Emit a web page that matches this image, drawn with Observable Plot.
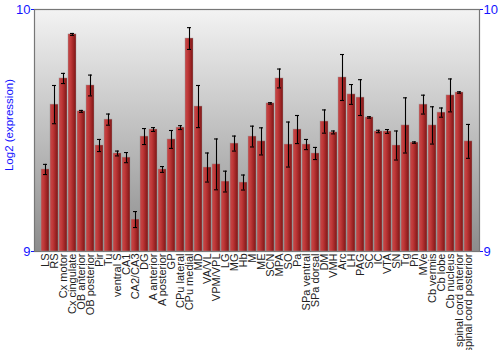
<!DOCTYPE html>
<html>
<head>
<meta charset="utf-8">
<script src="https://cdn.jsdelivr.net/npm/d3@7"></script>
<script src="https://cdn.jsdelivr.net/npm/@observablehq/plot@0.6"></script>
<style>
  html, body { margin: 0; padding: 0; background: #fff; }
  #chart { width: 500px; height: 350px; }
</style>
</head>
<body>
<div id="chart"></div>
<script>
const regions = ["LS","RS","Cx motor","Cx cingulate","OB anterior","OB posterior","Pir","Tu","ventral S","CA1","CA2/CA3","DG","A anterior","A posterior","GP","CPu lateral","CPu medial","MD","VA/VL","VPM/VPL","LG","MG","Hb","M","ME","SCN","MPA","SO","Pa","SPa ventral","SPa dorsal","DM","VMH","Arc","LH","PAG","SC","IC","VTA","SN","Tg","Pn","MVe","Cb vermis","Cb lobe","Cb nucleus","spinal cord anterior","spinal cord posterior"];
const means = [9.339,9.607,9.715,9.897,9.579,9.686,9.438,9.545,9.405,9.388,9.132,9.475,9.504,9.339,9.463,9.512,9.880,9.599,9.347,9.360,9.289,9.446,9.285,9.475,9.455,9.612,9.715,9.442,9.504,9.442,9.405,9.537,9.492,9.719,9.649,9.636,9.554,9.496,9.496,9.438,9.521,9.450,9.607,9.521,9.574,9.645,9.657,9.455];
const errors = [0.021,0.079,0.021,0.004,0.004,0.043,0.025,0.023,0.010,0.021,0.033,0.033,0.008,0.012,0.037,0.008,0.045,0.087,0.060,0.105,0.043,0.031,0.031,0.043,0.056,0.003,0.039,0.093,0.058,0.021,0.025,0.048,0.006,0.095,0.041,0.074,0.003,0.005,0.008,0.060,0.114,0.003,0.039,0.077,0.019,0.068,0.003,0.070];
const yTicks = [9, 10];
const yLabel = "Log2 (expression)";

const data = regions.map((r, i) => ({region: r, mean: means[i], lo: means[i] - errors[i], hi: means[i] + errors[i]}));

const blue = "#1414ff";
const font = "'Liberation Sans', Arial, sans-serif";
const plot = Plot.plot({
  width: 500,
  height: 350,
  marginLeft: 34,
  marginRight: 21,
  marginTop: 9,
  marginBottom: 99,
  style: {fontFamily: font, background: "white"},
  x: {domain: regions, padding: 0.13, label: null},
  y: {domain: [9, 10], label: null},
  marks: [
    Plot.frame({fill: "url(#bgGrad)", stroke: "#777", strokeWidth: 1.2}),
    Plot.barY(data, {x: "region", y1: 9, y2: "mean", fill: "url(#barGrad)", stroke: "#999", strokeOpacity: 0.7, strokeWidth: 0.6}),
    Plot.ruleX(data, {x: "region", y1: "lo", y2: "hi", stroke: "#000", strokeWidth: 1.1}),
    Plot.tickY(data, {x: "region", y: "lo", stroke: "#000", strokeWidth: 1.1, insetLeft: 2, insetRight: 2}),
    Plot.tickY(data, {x: "region", y: "hi", stroke: "#000", strokeWidth: 1.1, insetLeft: 2, insetRight: 2}),
    Plot.axisY({anchor: "left", ticks: yTicks, tickSize: 3, tickPadding: 1, tickFormat: d3.format("d"), color: blue, fontSize: 13, label: null}),
    Plot.axisY({anchor: "right", ticks: yTicks, tickSize: 3, tickPadding: 1, tickFormat: d3.format("d"), color: blue, fontSize: 13, label: null}),
    Plot.axisX({tickRotate: -90, tickSize: 0, tickPadding: 2, fontSize: 11, color: "#222", label: null})
  ]
});

const svg = d3.select(plot);
const defs = svg.insert("defs", ":first-child");
const bg = defs.append("linearGradient").attr("id", "bgGrad").attr("x1", 0).attr("y1", 0).attr("x2", 0).attr("y2", 1);
bg.append("stop").attr("offset", "0%").attr("stop-color", "#f3f3f3");
bg.append("stop").attr("offset", "100%").attr("stop-color", "#8c8c8c");
const bar = defs.append("linearGradient").attr("id", "barGrad").attr("x1", 0).attr("y1", 0).attr("x2", 1).attr("y2", 0);
bar.append("stop").attr("offset", "0%").attr("stop-color", "#c44a4a");
bar.append("stop").attr("offset", "35%").attr("stop-color", "#c03838");
bar.append("stop").attr("offset", "100%").attr("stop-color", "#7e1414");

svg.append("text")
  .attr("transform", "translate(13,125) rotate(-90)")
  .attr("text-anchor", "middle")
  .attr("fill", blue)
  .attr("font-size", 11.5)
  .attr("font-family", font)
  .text(yLabel);

document.getElementById("chart").appendChild(plot);
</script>
</body>
</html>
